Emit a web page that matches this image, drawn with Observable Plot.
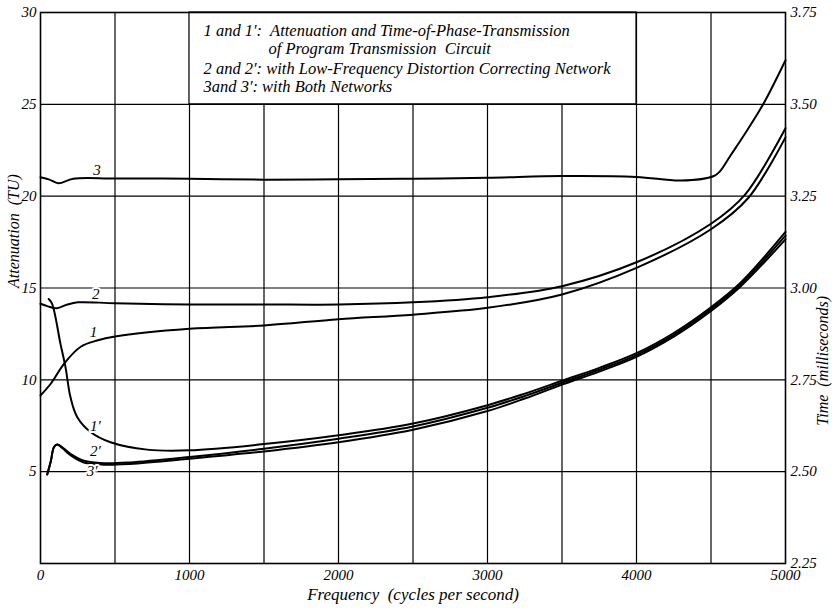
<!DOCTYPE html>
<html><head><meta charset="utf-8">
<script src="https://cdn.jsdelivr.net/npm/d3@7"></script>
<script src="https://cdn.jsdelivr.net/npm/@observablehq/plot@0.6"></script>
<style>body{margin:0;background:#fff} svg{display:block}</style>
</head><body><div id="chart"></div>
<script>
// Attenuation curves (TU, left axis)
const freq1 = [0, 70, 160, 270, 380, 500, 1000, 1500, 2000, 2500, 3000, 3500, 4000, 4500, 4750, 5000];
const att1  = [9.15, 9.8, 10.9, 11.8, 12.14, 12.36, 12.78, 12.96, 13.3, 13.55, 13.92, 14.65, 16.1, 18.2, 19.9, 23.2];
const freq2 = [0, 50, 110, 180, 250, 500, 1000, 1500, 2000, 2500, 3000, 3500, 4000, 4500, 4730, 5000];
const att2  = [14.14, 14.0, 13.9, 14.1, 14.22, 14.17, 14.1, 14.1, 14.1, 14.22, 14.5, 15.1, 16.4, 18.5, 20.1, 23.7];
const freq3 = [0, 60, 120, 220, 500, 1000, 1500, 2000, 2500, 3000, 3500, 4000, 4300, 4520, 4560, 4630, 4720, 4850, 5000];
const att3  = [21.03, 20.9, 20.7, 20.95, 20.96, 20.95, 20.9, 20.92, 20.95, 21.0, 21.1, 21.05, 20.85, 21.1, 21.35, 22.2, 23.3, 25.0, 27.4];
// Time-of-phase-transmission curves (milliseconds, right axis)
const freq1p = [55, 78, 134, 168, 201, 246, 336, 470, 716, 1000, 1500, 2000, 2500, 3000, 3250, 3500, 3750, 4000, 4250, 4500, 4700, 5000];
const time1p = [2.970, 2.957, 2.848, 2.784, 2.703, 2.649, 2.608, 2.580, 2.560, 2.558, 2.575, 2.599, 2.631, 2.681, 2.7125, 2.7475, 2.7825, 2.8225, 2.8775, 2.9475, 3.015, 3.1525];
const freq2p = [45, 70, 90, 112, 150, 201, 291, 425, 600, 1000, 1500, 2000, 2500, 3000, 3250, 3500, 3750, 4000, 4250, 4500, 4700, 5000];
const time2p = [2.4925, 2.530, 2.5665, 2.574, 2.565, 2.5485, 2.530, 2.523, 2.525, 2.540, 2.5625, 2.5895, 2.623, 2.674, 2.706, 2.742, 2.7775, 2.8175, 2.8725, 2.9425, 3.010, 3.1425];
const freq3p = [45, 70, 90, 112, 150, 201, 291, 425, 600, 1000, 1500, 2000, 2500, 3000, 3250, 3500, 3750, 4000, 4250, 4500, 4700, 5000];
const time3p = [2.4925, 2.530, 2.5665, 2.574, 2.563, 2.545, 2.525, 2.519, 2.521, 2.535, 2.555, 2.580, 2.614, 2.665, 2.699, 2.737, 2.7725, 2.8125, 2.8675, 2.9375, 3.005, 3.1325];

const xTicks = [0, 1000, 2000, 3000, 4000, 5000];
const xGrid = [500, 1000, 1500, 2000, 2500, 3000, 3500, 4000, 4500];
const leftTicks = [5, 10, 15, 20, 25, 30];
const rightTickLabels = ["2.25", "2.50", "2.75", "3.00", "3.25", "3.50", "3.75"];
const yGrid = [5, 10, 15, 20, 25];

const curveNames = ["1", "2", "3", "1'", "2'", "3'"];
const labelFreq = [356, 370, 380, 369, 369, 347];
const labelVal  = [12.6, 14.65, 21.4, 7.5, 6.1, 5.0];

const legendLines = [
  "1 and 1\u2032:  Attenuation and Time-of-Phase-Transmission",
  "of Program Transmission  Circuit",
  "2 and 2\u2032: with Low-Frequency Distortion Correcting Network",
  "3and 3\u2032: with Both Networks"
];

// time (ms) -> attenuation-scale position: 2.25 ms at 0 TU, 3.75 ms at 30 TU
const msToY = ms => (ms - 2.25) * 20;

const series = [];
const add = (name, fs, vs, conv) => fs.forEach((f, i) => series.push({name, f, v: conv ? msToY(vs[i]) : vs[i]}));
add("1", freq1, att1, false);
add("2", freq2, att2, false);
add("3", freq3, att3, false);
add("1'", freq1p, time1p, true);
add("2'", freq2p, time2p, true);
add("3'", freq3p, time3p, true);

const labels = curveNames.map((n, i) => ({t: n.replace("'", "\u2032"), f: labelFreq[i], v: labelVal[i]}));
const legendRows = legendLines.map((t, i) => ({t, f: i === 1 ? 1530 : 1094, v: [29.02, 28.04, 26.95, 25.97][i]}));

const font = "Liberation Serif";
const chart = Plot.plot({
  width: 835, height: 609,
  marginLeft: 40, marginRight: 50, marginTop: 12, marginBottom: 46,
  x: {domain: [0, 5000]},
  y: {domain: [0, 30]},
  style: {fontFamily: font, fontStyle: "italic", fontSize: "14px", background: "white", color: "black"},
  marks: [
    Plot.ruleX(xGrid, {stroke: "black", strokeWidth: 1.2}),
    Plot.ruleY(yGrid, {stroke: "black", strokeWidth: 1.2}),
    Plot.rect([{}], {x1: 1000, x2: 4000, y1: 25, y2: 30, fill: "white", stroke: "black", strokeWidth: 1.2}),
    Plot.text(legendRows, {x: "f", y: "v", text: "t", textAnchor: "start", fontSize: 16.5, fontFamily: font, fontStyle: "italic"}),
    Plot.frame({stroke: "black", strokeWidth: 1.6}),
    Plot.line(series, {x: "f", y: "v", z: "name", curve: "catmull-rom", stroke: "black", strokeWidth: 2}),
    Plot.text(labels, {x: "f", y: "v", text: "t", fontSize: 15, fontFamily: font, fontStyle: "italic", stroke: "white", strokeWidth: 4, fill: "black"}),
    Plot.axisX(xTicks, {tickSize: 0, tickPadding: 6, fontSize: 15, label: null, tickFormat: d => String(d)}),
    Plot.axisY(leftTicks, {anchor: "left", tickSize: 0, tickPadding: 4, fontSize: 15, label: null}),
    Plot.axisY(leftTicks.concat([0]), {anchor: "right", tickSize: 0, tickPadding: 5, fontSize: 15, label: null,
      tickFormat: d => rightTickLabels[d / 5]}),
    Plot.text(["Attenuation  (TU)"], {frameAnchor: "left", dx: -27, dy: 0, rotate: -90, fontSize: 16, fontFamily: font, fontStyle: "italic"}),
    Plot.text(["Time  (milliseconds)"], {frameAnchor: "right", dx: 37, dy: 8, rotate: -90, fontSize: 16, fontFamily: font, fontStyle: "italic"}),
    Plot.text(["Frequency  (cycles per second)"], {frameAnchor: "bottom", dy: 36, fontSize: 17, fontFamily: font, fontStyle: "italic"})
  ]
});
document.getElementById("chart").appendChild(chart);
</script>
</body></html>
